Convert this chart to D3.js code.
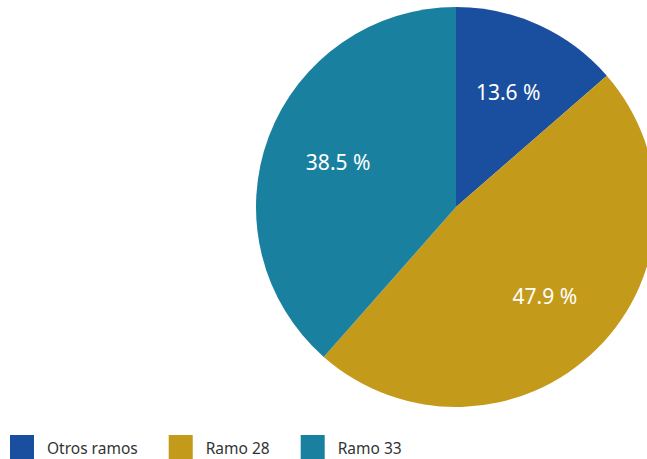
<!DOCTYPE html>
<html>
<head>
<meta charset="utf-8">
<script src="https://cdn.jsdelivr.net/npm/d3@7"></script>
<style>
  body { margin: 0; background: #fff; }
  svg { display: block; font-family: "Noto Sans", "Open Sans", sans-serif; }
</style>
</head>
<body>
<svg></svg>
<script>
var categories = ["Otros ramos", "Ramo 28", "Ramo 33"];
var values = [13.6, 47.9, 38.5];
var colors = ["#1a4e9e", "#c49a1b", "#1a80a0"];

var width = 647;
var height = 459;
var cx = 456, cy = 207, radius = 200;

var svg = d3.select("svg")
  .attr("width", width)
  .attr("height", height);

var data = categories.map(function(c, i){
  return {name: c, value: values[i], color: colors[i]};
});

var pie = d3.pie()
  .sort(null)
  .value(function(d){ return d.value; });

var arc = d3.arc()
  .innerRadius(0)
  .outerRadius(radius);

// labels sit a bit past the middle of each slice
var labelArc = d3.arc()
  .innerRadius(radius * 0.63)
  .outerRadius(radius * 0.63);

var pieGroup = svg.append("g")
  .attr("transform", "translate(" + cx + "," + cy + ")");

var slices = pie(data);

pieGroup.selectAll("path")
  .data(slices)
  .enter().append("path")
  .attr("d", arc)
  .attr("fill", function(d){ return d.data.color; });

pieGroup.selectAll("text")
  .data(slices)
  .enter().append("text")
  .attr("transform", function(d){ return "translate(" + labelArc.centroid(d) + ")"; })
  .attr("text-anchor", "middle")
  .attr("dy", "0.35em")
  .attr("fill", "#fff")
  .style("font-size", "21px")
  .text(function(d){ return d3.format(".1f")(d.data.value) + " %"; });

// legend along the bottom
var legend = svg.append("g")
  .attr("transform", "translate(10,435)");

var xPos = 0;
data.forEach(function(d){
  var item = legend.append("g").attr("transform", "translate(" + xPos + ",0)");
  item.append("rect")
    .attr("width", 24)
    .attr("height", 24)
    .attr("fill", d.color);
  var t = item.append("text")
    .attr("x", 37)
    .attr("y", 19)
    .attr("fill", "#333")
    .style("font-size", "15.5px")
    .text(d.name);
  xPos += 37 + t.node().getComputedTextLength() + 31;
});
</script>
</body>
</html>
